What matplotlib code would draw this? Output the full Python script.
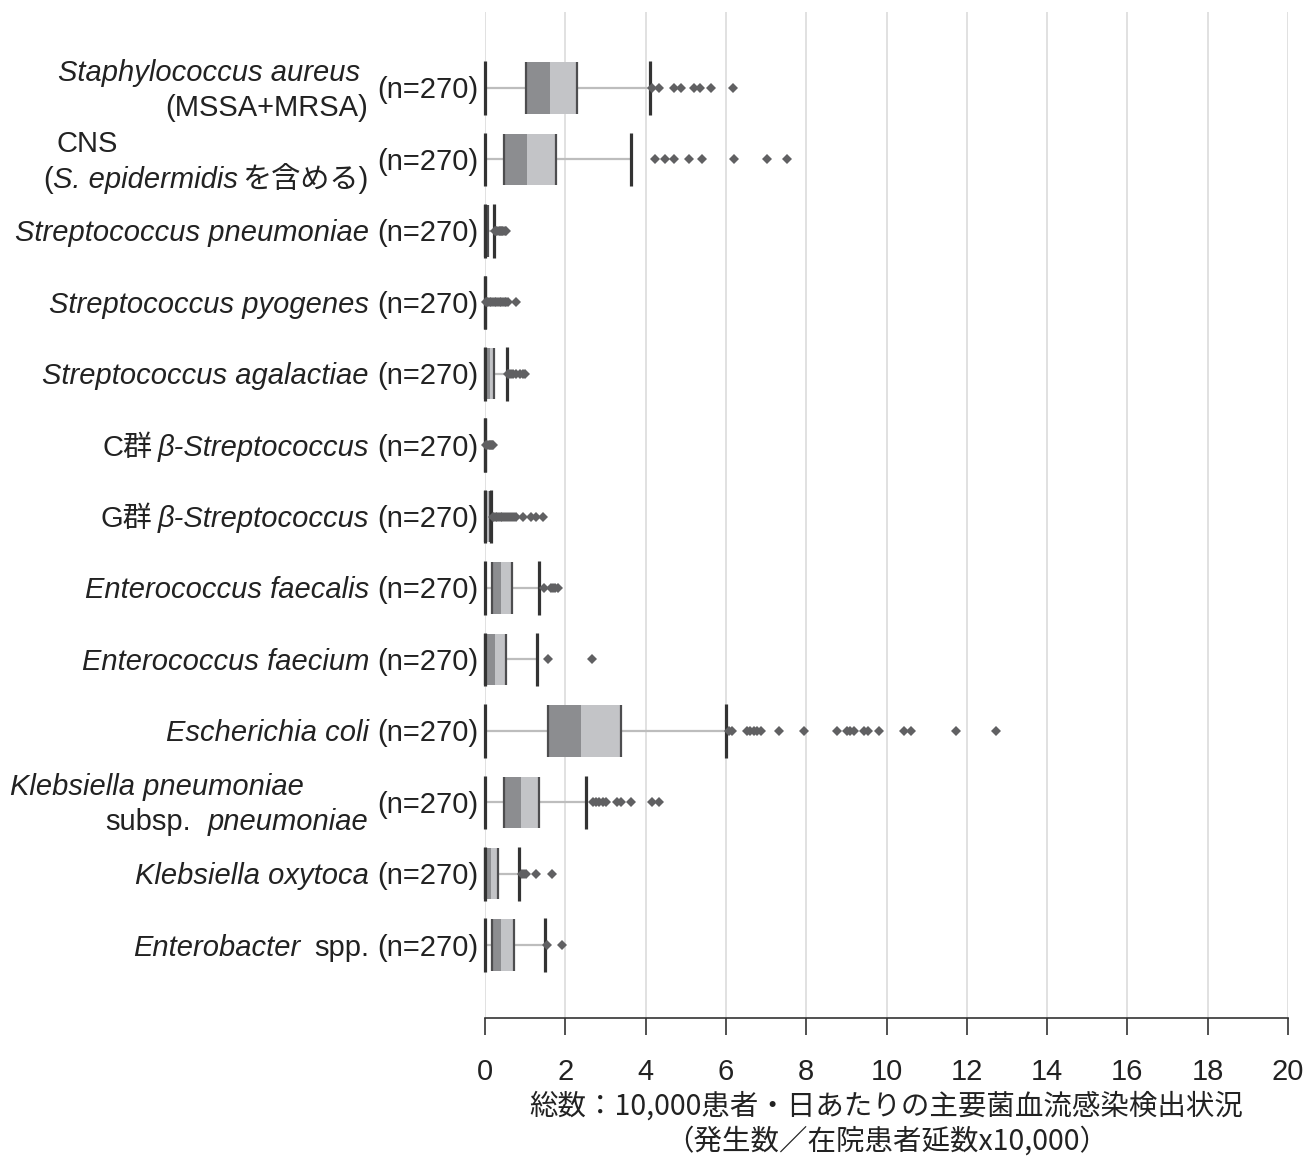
import matplotlib
matplotlib.use("Agg")
import matplotlib.pyplot as plt
import matplotlib.transforms as mtransforms

# ---------------- data ----------------
n_labels = ["(n=270)"] * 13

# label lines: list of lines, each line = list of (text, italic, gap_before_px)
label_lines = [
    [[("Staphylococcus aureus", True, 0)], [("(MSSA+MRSA)", False, 0)]],
    [[("CNS", False, 0)], [("(", False, 0), ("S. epidermidis", True, 0), ("を含める)", False, 4)]],
    [[("Streptococcus pneumoniae", True, 0)]],
    [[("Streptococcus pyogenes", True, 0)]],
    [[("Streptococcus agalactiae", True, 0)]],
    [[("C群", False, 0), ("β-Streptococcus", True, 5)]],
    [[("G群", False, 0), ("β-Streptococcus", True, 5)]],
    [[("Enterococcus faecalis", True, 0)]],
    [[("Enterococcus faecium", True, 0)]],
    [[("Escherichia coli", True, 0)]],
    [[("Klebsiella pneumoniae", True, 0)], [("subsp.", False, 0), ("pneumoniae", True, 16)]],
    [[("Klebsiella oxytoca", True, 0)]],
    [[("Enterobacter", True, 0), ("spp.", False, 14)]],
]

whislo = [0, 0, 0, 0, 0, 0, 0, 0, 0, 0, 0, 0, 0]
q1 = [1.02, 0.48, 0.00, 0.00, 0.00, 0.00, 0.00, 0.17, 0.00, 1.58, 0.48, 0.00, 0.17]
med = [1.62, 1.05, 0.00, 0.00, 0.13, 0.00, 0.05, 0.41, 0.25, 2.40, 0.90, 0.15, 0.40]
q3 = [2.28, 1.77, 0.07, 0.00, 0.23, 0.00, 0.13, 0.68, 0.53, 3.38, 1.34, 0.33, 0.71]
whishi = [4.12, 3.64, 0.22, 0.00, 0.54, 0.00, 0.15, 1.35, 1.29, 6.00, 2.52, 0.84, 1.49]

fliers = [
    [4.17, 4.34, 4.71, 4.88, 5.20, 5.35, 5.63, 6.18],
    [4.23, 4.48, 4.71, 5.09, 5.40, 6.21, 7.02, 7.52],
    [0.25, 0.28, 0.31, 0.34, 0.37, 0.40, 0.43, 0.46, 0.49, 0.52],
    [0.02, 0.05, 0.08, 0.12, 0.16, 0.20, 0.24, 0.28, 0.32, 0.37, 0.41, 0.45, 0.49, 0.53, 0.57, 0.78],
    [0.58, 0.61, 0.65, 0.70, 0.78, 0.86, 0.95, 1.00],
    [0.03, 0.06, 0.09, 0.12, 0.15, 0.18, 0.21],
    [0.19, 0.23, 0.27, 0.31, 0.35, 0.39, 0.43, 0.48, 0.53, 0.58, 0.63, 0.68, 0.73, 0.77,
     0.95, 1.15, 1.28, 1.44],
    [1.48, 1.64, 1.70, 1.75, 1.83],
    [1.58, 2.67],
    [6.07, 6.14, 6.52, 6.61, 6.70, 6.78, 6.87, 7.32, 7.94, 8.76, 9.01, 9.10, 9.18, 9.44,
     9.53, 9.81, 10.43, 10.60, 11.73, 12.72],
    [2.68, 2.76, 2.85, 2.93, 3.01, 3.30, 3.39, 3.63, 4.17, 4.34],
    [0.92, 0.98, 1.02, 1.27, 1.67],
    [1.54, 1.92],
]

xticks = list(range(0, 21, 2))
xlabel_lines = ["総数：10,000患者・日あたりの主要菌血流感染検出状況",
                "（発生数／在院患者延数x10,000）"]

# ---------------- figure ----------------
W, H = 1308, 1158
DPI = 100
fig = plt.figure(figsize=(W / DPI, H / DPI), dpi=DPI)
fig.patch.set_facecolor("white")
ax = fig.add_axes([485 / W, 1 - 1018 / H, (1288 - 485) / W, (1018 - 12) / H])

LAT = ["Liberation Sans", "Noto Sans CJK JP", "DejaVu Sans"]
CJK = ["Noto Sans CJK JP", "DejaVu Sans"]
FS = 21

n = len(q1)
ypos = list(range(n))
box_h = 0.72
cap_h = 0.75

dark = "#8c8d90"
light = "#c3c4c7"

for i in ypos:
    # whiskers
    ax.hlines(i, whislo[i], q1[i], color="#bdbdbd", lw=1.6, zorder=2)
    ax.hlines(i, q3[i], whishi[i], color="#bdbdbd", lw=1.6, zorder=2)
    # boxes
    ax.barh(i, med[i] - q1[i], left=q1[i], height=box_h, color=dark, lw=0, zorder=3)
    ax.barh(i, q3[i] - med[i], left=med[i], height=box_h, color=light, lw=0, zorder=3)
    if q3[i] > q1[i]:
        ax.vlines([q1[i], q3[i]], i - box_h / 2, i + box_h / 2, color="#4d4d4f", lw=1.6,
                  zorder=4, clip_on=False)
    # caps
    ax.vlines([whislo[i], whishi[i]], i - cap_h / 2, i + cap_h / 2, color="#333333", lw=2.3,
              zorder=5, clip_on=False)
    # fliers
    ax.plot(fliers[i], [i] * len(fliers[i]), ls="none", marker="D", ms=5.4,
            mfc="#606062", mec="#606062", mew=0, zorder=6, clip_on=False)

ax.set_xlim(0, 20)
ax.set_ylim(13.02, -1.064)
ax.set_xticks(xticks)
ax.set_xticklabels([str(t) for t in xticks], fontsize=FS, family=LAT, color="#222222")
ax.set_yticks([])
ax.grid(axis="x", color="#dcdcdc", lw=1.2, zorder=0)
ax.set_axisbelow(True)
for s in ["top", "right", "left"]:
    ax.spines[s].set_visible(False)
ax.spines["bottom"].set_color("#333333")
ax.spines["bottom"].set_linewidth(1.2)
ax.tick_params(axis="x", direction="out", length=12, width=1.2, color="#333333", pad=17)

# x label (two lines)
ax.annotate(xlabel_lines[0], xy=(0.5, 0), xycoords="axes fraction", xytext=(0, -89),
            textcoords="offset pixels", ha="center", va="center", fontsize=20.5,
            family=CJK, color="#222222")
ax.annotate(xlabel_lines[1], xy=(0.5, 0), xycoords="axes fraction", xytext=(0, -124),
            textcoords="offset pixels", ha="center", va="center", fontsize=20.5,
            family=CJK, color="#222222")

# ---------------- y labels (mixed italic) ----------------
fig.canvas.draw()
renderer = fig.canvas.get_renderer()
ident = mtransforms.IdentityTransform()
fs_px = FS * DPI / 72.0


def draw_line(segs, x_px, y_center_disp, ha):
    texts = []
    widths = []
    for (s, it, gap) in segs:
        t = fig.text(0, 0, s, transform=ident, fontsize=FS, family=LAT,
                     style="italic" if it else "normal", ha="left", va="baseline",
                     color="#222222")
        texts.append(t)
        widths.append(t.get_window_extent(renderer).width)
    total = sum(widths) + sum(g for (_, _, g) in segs)
    x = x_px - total if ha == "right" else x_px
    base = y_center_disp - 0.36 * fs_px
    for t, w, (_, _, gap) in zip(texts, widths, segs):
        x += gap
        t.set_position((x, base))
        x += w


# pixel anchors (from left edge) for label lines
line_anchor = {
    0: [("right", 360, -17.5), ("right", 368, 17.5)],
    1: [("left", 57, -18), ("right", 368, 18)],
    10: [("left", 10, -17.5), ("right", 368, 17.5)],
}

for i in ypos:
    yc = ax.transData.transform((0, i))[1]
    draw_line([(n_labels[i], False, 0)], 478, yc, "right")
    lines = label_lines[i]
    if len(lines) == 1:
        draw_line(lines[0], 369, yc, "right")
    else:
        for segs, (ha, xp, dy) in zip(lines, line_anchor[i]):
            draw_line(segs, xp, yc - dy, ha)

fig.savefig("out.png", dpi=DPI, facecolor="white")
